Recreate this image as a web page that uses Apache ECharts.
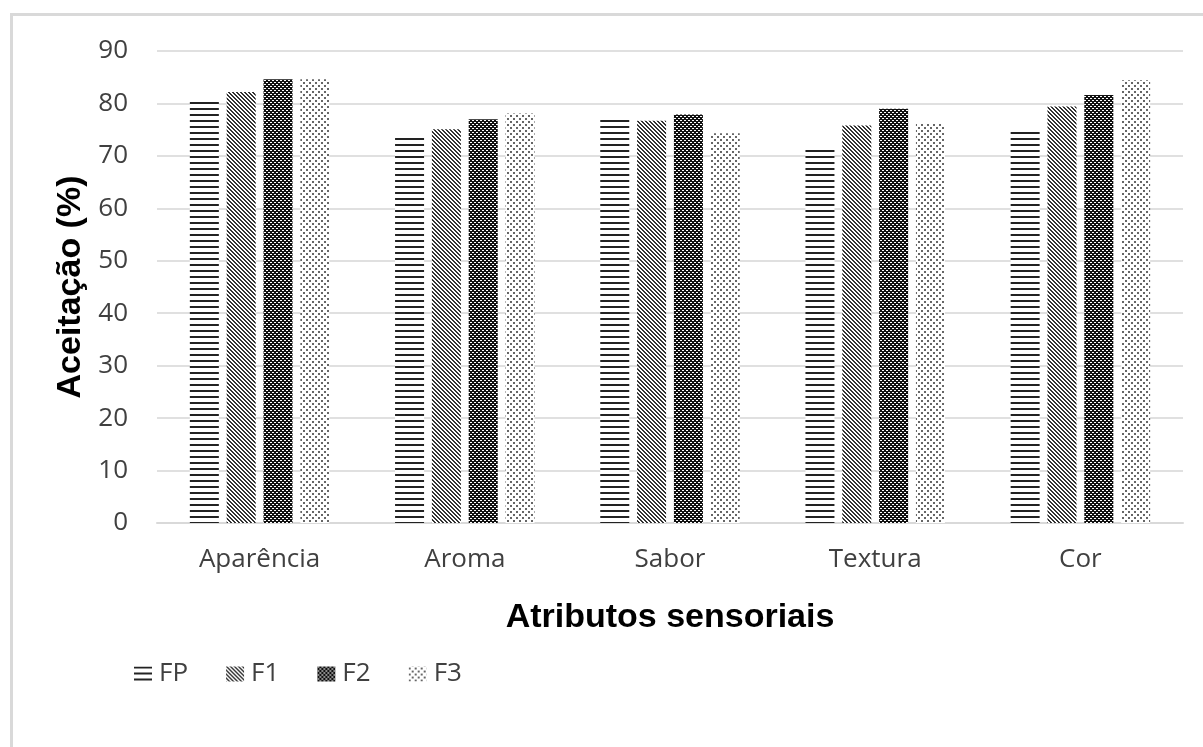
<!DOCTYPE html>
<html>
<head>
<meta charset="utf-8">
<script src="https://cdn.jsdelivr.net/npm/echarts@6/dist/echarts.min.js"></script>
<style>
  html, body { margin: 0; padding: 0; background: #fff; }
  #chart { width: 1203px; height: 747px; }
</style>
</head>
<body>
<div id="chart"></div>
<script>
// chart data
const categories = ['Aparência', 'Aroma', 'Sabor', 'Textura', 'Cor']
const seriesNames = ['FP', 'F1', 'F2', 'F3']
const fpValues = [80.6, 73.5, 77.0, 71.1, 74.8]
const f1Values = [82.2, 75.1, 76.7, 75.8, 79.4]
const f2Values = [84.6, 77.0, 77.9, 79.0, 81.6]
const f3Values = [84.6, 78.1, 74.3, 76.1, 84.4]
const yMin = 0
const yMax = 90
const yStep = 10

// small canvas tile used as a repeating fill
const makePattern = function (size, draw) {
  const c = document.createElement('canvas')
  c.width = size
  c.height = size
  const ctx = c.getContext('2d')
  ctx.fillStyle = '#fff'
  ctx.fillRect(0, 0, size, size)
  draw(ctx, size)
  return {image: c, repeat: 'repeat'}
}

// FP: horizontal lines
const hLines = makePattern(6, function (ctx) {
  ctx.fillStyle = '#222'
  ctx.fillRect(0, 0, 6, 2)
})

// F1: "\" diagonal lines
const diagLines = makePattern(4, function (ctx, s) {
  ctx.fillStyle = '#333'
  for (var i = 0; i < s; i++) {
    ctx.fillRect(i, i, 1, 1)
    ctx.fillRect((i + 1) % s, i, 1, 1)
  }
})

// F2: black with white dots
const darkDots = makePattern(4, function (ctx, s) {
  ctx.fillStyle = '#111'
  ctx.fillRect(0, 0, s, s)
  ctx.fillStyle = '#fff'
  ctx.fillRect(0, 0, 2, 1)
  ctx.fillRect(2, 2, 2, 1)
})

// F3: sparse dots
const lightDots = makePattern(6, function (ctx) {
  ctx.fillStyle = '#666'
  ctx.fillRect(0, 1, 2, 2)
  ctx.fillRect(3, 4, 2, 2)
})

const fills = [hLines, diagLines, darkDots, lightDots]
const values = [fpValues, f1Values, f2Values, f3Values]

const tickFont = {fontFamily: 'Open Sans', fontSize: 26, color: '#404040'}
const titleFont = {fontFamily: 'Liberation Sans', fontSize: 34, fontWeight: 'bold', color: '#000'}

const chart = echarts.init(document.getElementById('chart'))

chart.setOption({
  animation: false,
  backgroundColor: '#fff',
  grid: {
    left: 157,
    right: 20,
    top: 51,
    bottom: 224,
  },
  legend: {
    data: seriesNames,
    left: 129,
    top: 656,
    itemWidth: 18,
    itemHeight: 15,
    itemGap: 38,
    icon: 'rect',
    textStyle: {...tickFont, fontSize: 26, padding: [0, 0, 0, 2]},
  },
  xAxis: {
    type: 'category',
    data: categories,
    name: 'Atributos sensoriais',
    nameLocation: 'middle',
    nameGap: 78,
    nameTextStyle: titleFont,
    axisLine: {lineStyle: {color: '#d9d9d9', width: 2}},
    axisTick: {show: false},
    axisLabel: {...tickFont, margin: 24},
  },
  yAxis: {
    type: 'value',
    min: yMin,
    max: yMax,
    interval: yStep,
    name: 'Aceitação (%)',
    nameLocation: 'middle',
    nameGap: 66,
    nameTextStyle: titleFont,
    axisLine: {show: false},
    axisTick: {show: false},
    axisLabel: {...tickFont, margin: 29},
    splitLine: {lineStyle: {color: '#e0e0e0', width: 2}},
  },
  series: seriesNames.map(function (name, i) {
    return {
      name: name,
      type: 'bar',
      data: values[i],
      barWidth: 29,
      barGap: '27%',
      itemStyle: {color: fills[i]},
    }
  }),
  graphic: [
    {
      type: 'rect',
      silent: true,
      shape: {x: 11.5, y: 14.5, width: 1300, height: 800},
      style: {fill: 'none', stroke: '#d9d9d9', lineWidth: 3},
    },
  ],
})
</script>
</body>
</html>
